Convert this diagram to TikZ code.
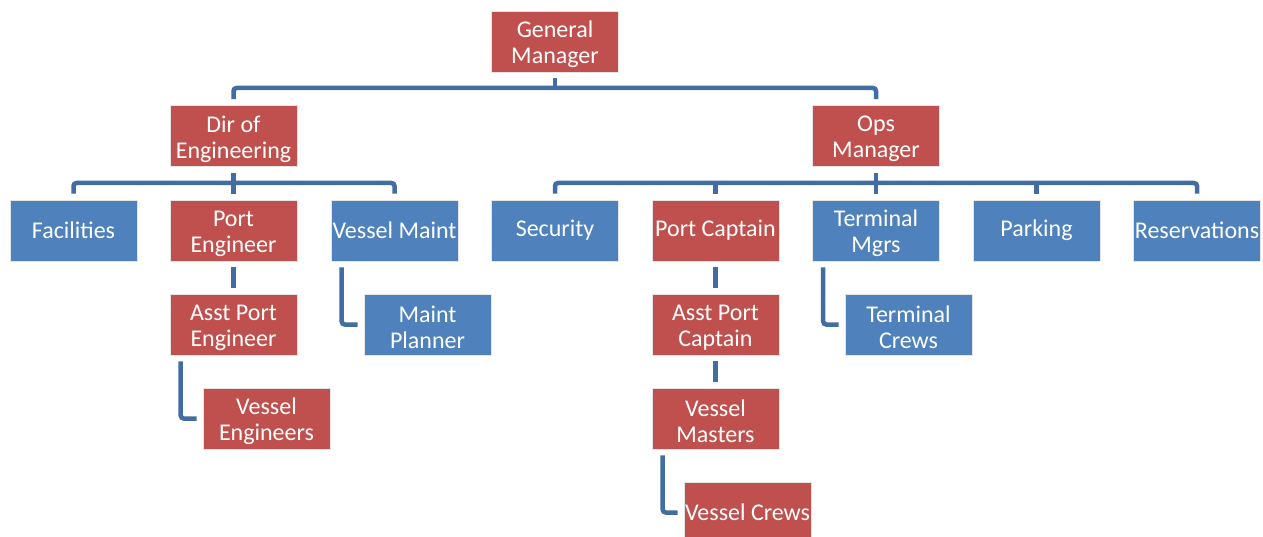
\documentclass[tikz,border=0pt]{standalone}
\usepackage{fontspec}
\setmainfont{Carlito}
\definecolor{boxred}{HTML}{C0504D}
\definecolor{boxblue}{HTML}{4F81BD}
\definecolor{conncol}{RGB}{65,109,162}
\begin{document}
\begin{tikzpicture}[x=1pt,y=-1pt,
  txt/.style={align=center,text=white,font=\fontsize{24}{26}\selectfont,inner sep=0pt},
  box/.style={minimum width=127pt,minimum height=61pt,inner sep=0pt,txt,
    draw=white!80!gray,line width=0.6pt},
  two/.style={label={[txt,yshift=-3pt]center:{#1}}},
  rbox/.style={box,fill=boxred},
  bbox/.style={box,fill=boxblue},
  conn/.style={draw=conncol,line width=4.5pt,rounded corners=3pt}]
\useasboundingbox (0,0) rectangle (1263,537);
\clip (0,0) rectangle (1263,537);
\node[rbox,two={General\\Manager}] (gm) at (555,41.5) {};
\node[rbox,two={Dir of\\Engineering}] (dir) at (233.5,136) {};
\node[rbox,two={Ops\\Manager}] (ops) at (876,136) {};
\node[bbox] (fac) at (73.5,230.5) {Facilities};
\node[rbox,two={Port\\Engineer}] (pe) at (233.5,230.5) {};
\node[bbox] (vm) at (394.5,230.5) {Vessel Maint};
\node[bbox] (sec) at (555,230.5) {Security};
\node[rbox] (pc) at (715.5,230.5) {Port Captain};
\node[bbox,two={Terminal\\Mgrs}] (tm) at (876,230.5) {};
\node[bbox] (park) at (1036.5,230.5) {Parking};
\node[bbox] (res) at (1197,230.5) {Reservations};
\node[rbox,two={Asst Port\\Engineer}] (ape) at (233.5,324.5) {};
\node[bbox,two={Maint\\Planner}] (mp) at (427.5,324.5) {};
\node[rbox,two={Vessel\\Engineers}] (ve) at (266.5,418.5) {};
\node[rbox,two={Asst Port\\Captain}] (apc) at (715.5,324.5) {};
\node[bbox,two={Terminal\\Crews}] (tc) at (908.5,324.5) {};
\node[rbox,two={Vessel\\Masters}] (vma) at (715.5,418.5) {};
\node[rbox] (vc) at (747.5,512.5) {Vessel Crews};
\coordinate (b1) at (555,88);
\coordinate (b2) at (233.5,183);
\coordinate (b3) at (876,183);
% level 1
\draw[conn] ([yshift=-6pt]gm.south) -- (b1);
\draw[conn] ([yshift=6pt]dir.north) |- (b1) -| ([yshift=6pt]ops.north);
% engineering
\draw[conn] ([yshift=-6pt]dir.south) -- ([yshift=6pt]pe.north);
\draw[conn] ([yshift=6pt]fac.north) |- (b2) -| ([yshift=6pt]vm.north);
\draw[conn] ([yshift=-6pt]pe.south) -- ([yshift=6pt]ape.north);
\draw[conn] ([xshift=11pt,yshift=-6pt]vm.south west) |- ([xshift=-6pt]mp.west);
\draw[conn] ([xshift=11pt,yshift=-6pt]ape.south west) |- ([xshift=-6pt]ve.west);
% operations
\draw[conn] ([yshift=-6pt]ops.south) -- ([yshift=6pt]tm.north);
\draw[conn] ([yshift=6pt]sec.north) |- (b3) -| ([yshift=6pt]res.north);
\draw[conn] ([yshift=6pt]pc.north) -- (pc.north |- b3);
\draw[conn] ([yshift=6pt]park.north) -- (park.north |- b3);
\draw[conn] ([yshift=-6pt]pc.south) -- ([yshift=6pt]apc.north);
\draw[conn] ([yshift=-6pt]apc.south) -- ([yshift=6pt]vma.north);
\draw[conn] ([xshift=11pt,yshift=-6pt]tm.south west) |- ([xshift=-6pt]tc.west);
\draw[conn] ([xshift=11pt,yshift=-6pt]vma.south west) |- ([xshift=-6pt]vc.west);
\end{tikzpicture}
\end{document}
